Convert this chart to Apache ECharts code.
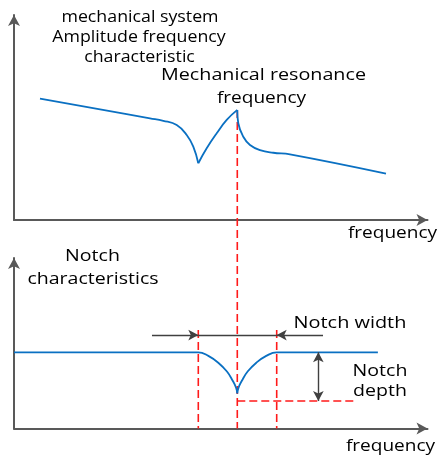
<!DOCTYPE html>
<html><head><meta charset="utf-8">
<script src="https://cdn.jsdelivr.net/npm/echarts@6/dist/echarts.min.js"></script>
<style>html,body{margin:0;padding:0;background:#fff}#c{width:443px;height:457px}</style>
</head><body><div id="c"></div>
<script>
// ---- Top panel: mechanical system amplitude-frequency curve (x: frequency 0-100, y: amplitude 0-100)
const fallX = [6.29, 32.89, 36.11, 39.35, 41.77, 43.36, 44.57];
const fallY = [59.2, 49.6, 48.4, 46.3, 41.5, 35.8, 27.7];
const riseX = [44.57, 46.60, 49.02, 51.44, 54.00];
const riseY = [27.7, 35.0, 42.3, 48.8, 53.7];
const dropX = [54.00, 54.24, 55.45, 57.07, 59.49, 62.71, 66.75, 89.96];
const dropY = [53.7, 47.2, 40.6, 36.6, 34.1, 32.8, 32.0, 22.6];
const resonanceX = 54.0;
const resonanceY = [53.7, -101.7];   // from the peak down to the lower panel's frequency axis

// ---- Bottom panel: notch characteristics (x: frequency 0-100, y: gain 0-100)
const notchLeftX = [0, 44.57, 47.0, 49.4, 51.5, 52.9, 53.7, 54.00];
const notchLeftY = [44.7, 44.7, 42.6, 38.6, 33.4, 28.0, 24.0, 20.6];
const notchRightX = [54.00, 54.3, 55.1, 56.5, 58.6, 61.0, 63.53, 88.0];
const notchRightY = [20.6, 24.0, 28.0, 33.4, 38.6, 42.6, 44.7, 44.7];
const widthEdgesX = [44.57, 63.53];
const widthEdgesY = [57.8, 0];
const depthLevelY = 16.1;
const depthLineX = [54.0, 82.95];
const widthArrowY = 54.8;
const widthArrowTailsX = [33.37, 74.73];
const depthArrowX = 73.6;
const depthArrowY = [44.7, 16.1];

const labels = [
  {text: 'mechanical system', x: 140, y: 17.2, size: 16, sx: 1.11},
  {text: 'Amplitude frequency', x: 139, y: 37.2, size: 16, sx: 1.11},
  {text: 'characteristic', x: 139.5, y: 57.2, size: 16, sx: 1.11},
  {text: 'Mechanical resonance', x: 263.5, y: 75.2, size: 17, sx: 1.16},
  {text: 'frequency', x: 261.5, y: 98.5, size: 17, sx: 1.12},
  {text: 'frequency', x: 392.5, y: 233, size: 17, sx: 1.12},
  {text: 'Notch', x: 92.5, y: 256.6, size: 17, sx: 1.15},
  {text: 'characteristics', x: 93, y: 279.3, size: 17, sx: 1.15},
  {text: 'Notch width', x: 350, y: 323.5, size: 17, sx: 1.17},
  {text: 'Notch', x: 380, y: 371, size: 17, sx: 1.15},
  {text: 'depth', x: 380, y: 391, size: 17, sx: 1.15},
  {text: 'frequency', x: 390.5, y: 446.6, size: 17, sx: 1.12}
];

const xy = (xs, ys) => xs.map((x, i) => [x, ys[i]]);
const BLUE = '#0a70c2', RED = '#ff1a1a', AXIS = '#595959', ARROW = '#404040';

const axisCommon = {
  type: 'value', min: 0, max: 100,
  axisLine: {onZero: false, symbol: ['none', 'arrow'], symbolSize: [9, 11], lineStyle: {color: AXIS, width: 2}},
  axisTick: {show: false}, axisLabel: {show: false}, splitLine: {show: false}
};

function lineSeries(grid, data, color, dashed, smooth, z, extra) {
  return Object.assign({
    type: 'line', xAxisIndex: grid, yAxisIndex: grid, data: data,
    symbol: 'none', showSymbol: false, smooth: smooth ? smooth : false,
    lineStyle: {color: color, width: dashed ? 1.6 : 1.8, type: dashed ? [8, 4] : 'solid'},
    silent: true, z: z, animation: false
  }, extra || {});
}

const series = [
  lineSeries(0, [[resonanceX, resonanceY[0]], [resonanceX, resonanceY[1]]], RED, true, 0, 2, {clip: false}),
  lineSeries(0, xy(fallX, fallY), BLUE, false, 0.45, 3),
  lineSeries(0, xy(riseX, riseY), BLUE, false, 0.45, 3),
  lineSeries(0, xy(dropX, dropY), BLUE, false, 0.45, 3),
  lineSeries(1, [[widthEdgesX[0], widthEdgesY[0]], [widthEdgesX[0], widthEdgesY[1]]], RED, true, 0, 2),
  lineSeries(1, [[widthEdgesX[1], widthEdgesY[0]], [widthEdgesX[1], widthEdgesY[1]]], RED, true, 0, 2),
  lineSeries(1, [[depthLineX[0], depthLevelY], [depthLineX[1], depthLevelY]], RED, true, 0, 2),
  lineSeries(1, xy(notchLeftX, notchLeftY), BLUE, false, 0.45, 3),
  lineSeries(1, xy(notchRightX, notchRightY), BLUE, false, 0.45, 3, {
    markLine: {
      silent: true, animation: false, symbolSize: [8, 10],
      label: {show: false},
      lineStyle: {color: ARROW, width: 1.4, type: 'solid'},
      emphasis: {disabled: true},
      data: [
        [{coord: [widthArrowTailsX[0], widthArrowY], symbol: 'none'}, {coord: [widthEdgesX[0], widthArrowY], symbol: 'arrow'}],
        [{coord: [widthEdgesX[0], widthArrowY], symbol: 'none'}, {coord: [widthEdgesX[1], widthArrowY], symbol: 'none'}],
        [{coord: [widthArrowTailsX[1], widthArrowY], symbol: 'none'}, {coord: [widthEdgesX[1], widthArrowY], symbol: 'arrow'}],
        [{coord: [depthArrowX, depthArrowY[0]], symbol: 'arrow'}, {coord: [depthArrowX, depthArrowY[1]], symbol: 'arrow'}]
      ]
    }
  })
];

const chart = echarts.init(document.getElementById('c'), null, {renderer: 'canvas'});
chart.setOption({
  animation: false,
  backgroundColor: '#ffffff',
  grid: [
    {left: 14, top: 15, width: 413.5, height: 205},
    {left: 14, top: 258, width: 413.5, height: 170.5}
  ],
  xAxis: [Object.assign({gridIndex: 0}, axisCommon), Object.assign({gridIndex: 1}, axisCommon)],
  yAxis: [Object.assign({gridIndex: 0}, axisCommon), Object.assign({gridIndex: 1}, axisCommon)],
  series: series,
  graphic: labels.map(l => ({
    type: 'text', x: l.x, y: l.y, scaleX: l.sx, silent: true, z: 10,
    style: {text: l.text, fontSize: l.size, fontFamily: '"Open Sans", sans-serif', fill: '#000',
            align: 'center', verticalAlign: 'middle'}
  }))
});
</script></body></html>
